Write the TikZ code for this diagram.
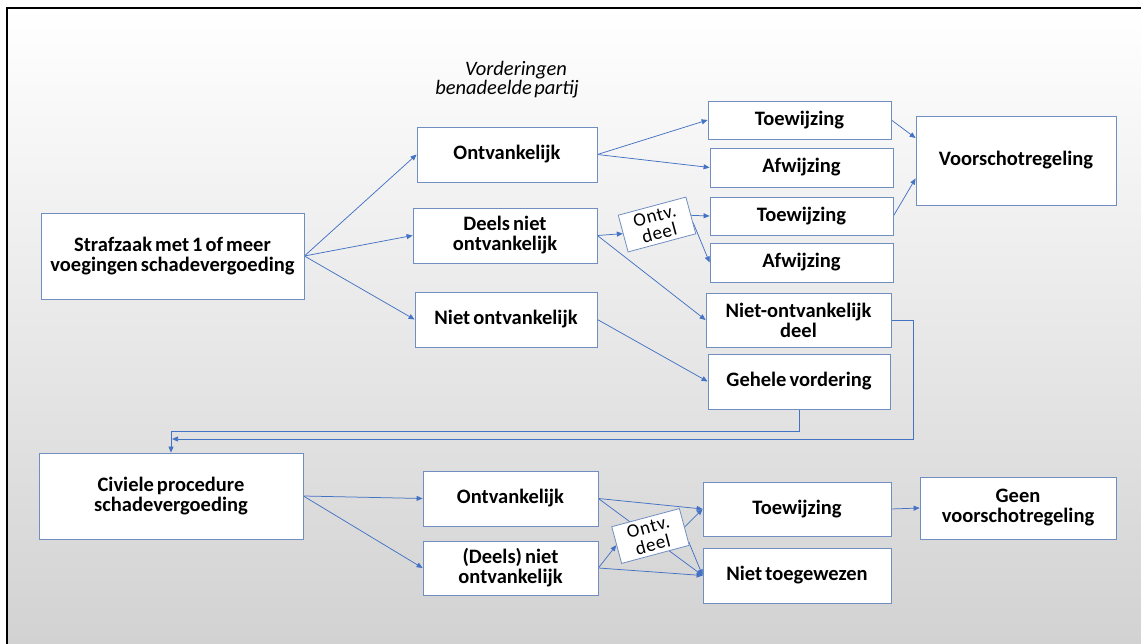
\documentclass[tikz,border=0pt]{standalone}
\usepackage{fontspec}
\setmainfont{Carlito}
\usetikzlibrary{arrows.meta,calc}
\definecolor{lineblue}{RGB}{68,114,196}
\definecolor{boxblue}{RGB}{112,142,192}
\definecolor{bggray}{RGB}{210,210,210}
\definecolor{bgmid}{RGB}{244,244,244}
\newcommand{\boxfont}{\bfseries\fontsize{20.5}{20}\selectfont\spaceskip=0.15em\relax}
\newcommand{\titfont}{\itshape\fontsize{20.5}{20}\selectfont\spaceskip=0.12em\relax}
\newcommand{\odfont}{\addfontfeature{LetterSpace=4}\fontsize{19}{18}\selectfont}
\pgfdeclarelayer{bglayer}
\pgfdeclarelayer{edgelayer}
\pgfsetlayers{bglayer,edgelayer,main}
\tikzset{
  box/.style={draw=boxblue, fill=white, line width=0.8pt, inner sep=0pt, align=center, font=\boxfont},
  sz/.style 2 args={minimum width=#1, minimum height=#2},
  odbox/.style={draw=boxblue, fill=white, line width=0.8pt, inner sep=0pt, align=center, font=\odfont, minimum width=70pt, minimum height=38pt, rotate=15},
  arr/.style={draw=lineblue, line width=0.75pt, -{Triangle[length=6pt,width=5pt]}},
  ln/.style={draw=lineblue, line width=0.75pt}
}
\begin{document}
\begin{tikzpicture}[x=1pt,y=-1pt]
\useasboundingbox (0,0) rectangle (1141,644);
\begin{pgfonlayer}{bglayer}
  \shade[top color=white, middle color=bgmid, bottom color=bggray] (7,8) rectangle (1141,644);
  \draw[line width=2.5pt] (7,644) -- (7,8) -- (1141,8);
\end{pgfonlayer}

% title
\node[font=\titfont] (ta) at (516,70) {Vorderingen};
\node[font=\titfont] (tb) at (507,89) {benadeelde partij};

% upper part
\node[box, sz={263pt}{86pt}] (s) at (172.5,256) {Strafzaak met 1 of meer\\voegingen schadevergoeding};
\node[box, sz={180pt}{55pt}] (o1) at (507,154.5) {Ontvankelijk};
\node[box, sz={184pt}{55pt}] (d1) at (505,235.5) {Deels niet\\ontvankelijk};
\node[box, sz={182pt}{55pt}] (n1) at (506,319.5) {Niet ontvankelijk};
\node[box, sz={183pt}{38pt}] (t1) at (799.5,120) {Toewijzing};
\node[box, sz={183pt}{39pt}] (a1) at (801.5,167.5) {Afwijzing};
\node[box, sz={183pt}{38pt}] (t2) at (801.5,216) {Toewijzing};
\node[box, sz={183pt}{39pt}] (a2) at (801.5,262.5) {Afwijzing};
\node[box, sz={185pt}{54pt}] (nod) at (798.5,320) {Niet-ontvankelijk\\deel};
\node[box, sz={182pt}{55pt}] (gv) at (799,381.5) {Gehele vordering};
\node[box, sz={200pt}{89pt}] (vr) at (1016,160.5) {Voorschotregeling};
\node[odbox] (od1) at (657,224.5) {Ontv.\\deel};

% lower part
\node[box, sz={264pt}{86pt}] (c) at (171,496) {Civiele procedure\\schadevergoeding};
\node[box, sz={175pt}{55pt}] (o2) at (510.5,498.5) {Ontvankelijk};
\node[box, sz={175pt}{54pt}] (d2) at (510.5,568) {(Deels) niet\\ontvankelijk};
\node[box, sz={188pt}{54pt}] (t3) at (797,509) {Toewijzing};
\node[box, sz={188pt}{55pt}] (nt) at (797,575.5) {Niet toegewezen};
\node[box, sz={196pt}{62pt}] (g) at (1018,508) {Geen\\voorschotregeling};
\node[odbox] (od2) at (650.5,536) {Ontv.\\deel};

\coordinate (ret) at (172,439);

\begin{pgfonlayer}{edgelayer}
  \draw[arr] (s.east) -- (o1.west);
  \draw[arr] (s.east) -- (d1.west);
  \draw[arr] (s.east) -- (n1.west);
  \draw[arr] (o1.east) -- (t1.west);
  \draw[arr] (o1.east) -- (a1.west);
  \draw[arr] (d1.east) -- (od1.west);
  \draw[arr] (d1.east) -- (nod.west);
  \draw[arr] (od1.east) -- (t2.west);
  \draw[arr] ($(od1.east)!0.4!(od1.south east)$) -- (a2.west);
  \draw[arr] (n1.east) -- (gv.west);
  \draw[arr] (t1.east) -- ($(vr.north west)!0.25!(vr.south west)$);
  \draw[arr] (t2.east) -- ($(vr.north west)!0.7!(vr.south west)$);
  \draw[arr] (nod.east) -- ++(22,0) |- (ret);
  \draw[arr] (gv.south) -- ++(0,22) -| (c.north);
  \draw[arr] (c.east) -- (o2.west);
  \draw[arr] (c.east) -- (d2.west);
  \draw[arr] (o2.east) -- (t3.west);
  \draw[arr] (o2.east) -- (nt.west);
  \draw[arr] (d2.east) -- (od2.west);
  \draw[arr] (d2.east) -- (nt.west);
  \draw[arr] (od2.east) -- (t3.west);
  \draw[arr] ($(od2.east)!0.8!(od2.south east)$) -- (nt.west);
  \draw[arr] (t3.east) -- (g.west);
\end{pgfonlayer}
\end{tikzpicture}
\end{document}
